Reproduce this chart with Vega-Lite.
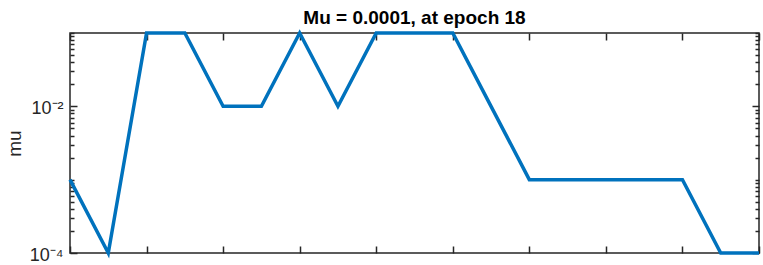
{
  "$schema": "https://vega.github.io/schema/vega-lite/v6.json",
  "width": 689,
  "height": 220,
  "autosize": {"type": "none"},
  "padding": {"left": 70, "top": 33, "right": 4, "bottom": 12},
  "background": "white",
  "title": {"text": "Mu = 0.0001, at epoch 18", "font": "Liberation Sans", "fontSize": 19, "fontWeight": "bold", "color": "#000000", "offset": 6, "dy": 8, "anchor": "middle"},
  "config": {
    "view": {"stroke": "#262626", "strokeWidth": 1.5},
    "axis": {"grid": false, "domain": false, "tickColor": "#262626", "tickWidth": 1.5, "labelFont": "Liberation Sans", "labelColor": "#262626", "titleFont": "Liberation Sans", "titleColor": "#262626"}
  },
  "data": {"values": [
    {"epoch": 0, "mu": 0.001},
    {"epoch": 1, "mu": 0.0001},
    {"epoch": 2, "mu": 0.1},
    {"epoch": 3, "mu": 0.1},
    {"epoch": 4, "mu": 0.01},
    {"epoch": 5, "mu": 0.01},
    {"epoch": 6, "mu": 0.1},
    {"epoch": 7, "mu": 0.01},
    {"epoch": 8, "mu": 0.1},
    {"epoch": 9, "mu": 0.1},
    {"epoch": 10, "mu": 0.1},
    {"epoch": 11, "mu": 0.01},
    {"epoch": 12, "mu": 0.001},
    {"epoch": 13, "mu": 0.001},
    {"epoch": 14, "mu": 0.001},
    {"epoch": 15, "mu": 0.001},
    {"epoch": 16, "mu": 0.001},
    {"epoch": 17, "mu": 0.0001},
    {"epoch": 18, "mu": 0.0001}
  ]},
  "layer": [
    {
      "mark": {"type": "line", "color": "#0072BD", "strokeWidth": 3.5},
      "encoding": {
        "x": {"field": "epoch", "type": "quantitative",
          "scale": {"domain": [0, 18], "nice": false, "zero": false},
          "axis": {"orient": "bottom", "values": [0, 2, 4, 6, 8, 10, 12, 14, 16, 18], "labels": false, "tickSize": -7, "title": null}},
        "y": {"field": "mu", "type": "quantitative",
          "scale": {"type": "log", "domain": [0.0001, 0.1], "nice": false},
          "axis": {"orient": "left",
            "values": [0.0001, 0.0002, 0.0003, 0.0004, 0.0005, 0.0006, 0.0007, 0.0008, 0.0009, 0.001, 0.002, 0.003, 0.004, 0.005, 0.006, 0.007, 0.008, 0.009, 0.01, 0.02, 0.03, 0.04, 0.05, 0.06, 0.07, 0.08, 0.09, 0.1],
            "tickSize": {"condition": {"test": "datum.value == 0.01 || datum.value == 0.0001", "value": -7}, "value": -4},
            "labelExpr": "datum.value == 0.01 ? '10⁻²' : (datum.value == 0.0001 ? '10⁻⁴' : '')",
            "labelFontSize": 18, "labelPadding": 14, "labelOffset": 2, "labelOverlap": false,
            "title": "mu", "titleFontSize": 19, "titleFontWeight": "normal", "titlePadding": 5}}
      }
    },
    {
      "mark": {"type": "line", "strokeOpacity": 0},
      "encoding": {
        "x": {"field": "epoch", "type": "quantitative",
          "axis": {"orient": "top", "values": [0, 2, 4, 6, 8, 10, 12, 14, 16, 18], "labels": false, "tickSize": -7, "title": null}},
        "y": {"field": "mu", "type": "quantitative",
          "axis": {"orient": "right",
            "values": [0.0001, 0.0002, 0.0003, 0.0004, 0.0005, 0.0006, 0.0007, 0.0008, 0.0009, 0.001, 0.002, 0.003, 0.004, 0.005, 0.006, 0.007, 0.008, 0.009, 0.01, 0.02, 0.03, 0.04, 0.05, 0.06, 0.07, 0.08, 0.09, 0.1],
            "tickSize": {"condition": {"test": "datum.value == 0.01 || datum.value == 0.0001", "value": -7}, "value": -4},
            "labels": false, "title": null}}
      }
    }
  ],
  "resolve": {"axis": {"x": "independent", "y": "independent"}}
}
